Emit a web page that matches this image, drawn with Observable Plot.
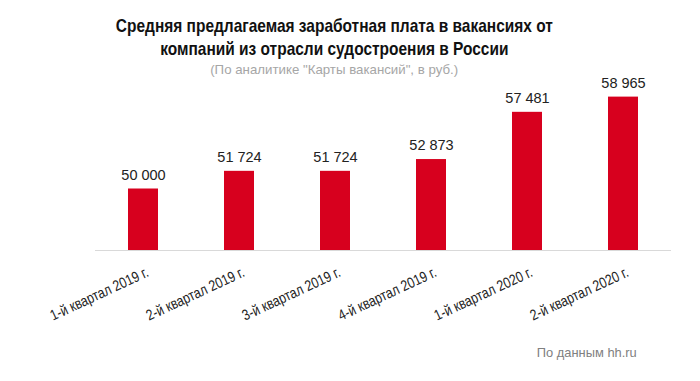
<!DOCTYPE html>
<html><head><meta charset="utf-8">
<script src="https://cdn.jsdelivr.net/npm/d3@7"></script>
<script src="https://cdn.jsdelivr.net/npm/@observablehq/plot@0.6"></script>
<style>
html,body{margin:0;padding:0;background:#fff;}
#wrap{position:relative;width:700px;height:381px;overflow:hidden;font-family:"Liberation Sans",Arial,sans-serif;}
#chart{position:absolute;left:0;top:56px;}
#title{position:absolute;left:0;top:14px;width:668px;text-align:center;font-weight:bold;font-size:19px;line-height:23px;color:#111;}
#subtitle{position:absolute;left:0;top:62px;width:668px;text-align:center;font-size:13.5px;line-height:16px;color:#a6a6a6;}
#caption{position:absolute;right:63px;top:345px;font-size:13.5px;line-height:16px;color:#808080;text-align:right;}
.fit{display:inline-block;white-space:nowrap;}
</style></head>
<body>
<div id="wrap">
  <div id="chart"></div>
  <div id="title"><span class="fit" id="t1" style="transform-origin:50% 50%">Средняя предлагаемая заработная плата в вакансиях от<br>компаний из отрасли судостроения в России</span></div>
  <div id="subtitle"><span class="fit" id="t2" style="transform-origin:50% 50%">(По аналитике "Карты вакансий", в руб.)</span></div>
  <div id="caption"><span class="fit" id="t3" style="transform-origin:100% 50%">По данным hh.ru</span></div>
</div>
<script>
const categories = ["1-й квартал 2019 г.", "2-й квартал 2019 г.", "3-й квартал 2019 г.", "4-й квартал 2019 г.", "1-й квартал 2020 г.", "2-й квартал 2020 г."];
const values = [50000, 51724, 51724, 52873, 57481, 58965];

const data = categories.map((c, i) => ({category: c, value: values[i]}));
const fmt = d3.formatLocale({decimal: ",", thousands: " ", grouping: [3], currency: ["", ""]}).format(",d");
const FONT = '"Liberation Sans",Arial,sans-serif';

const chart = Plot.plot({
  width: 700,
  height: 282,
  marginTop: 30,
  marginBottom: 88,
  marginLeft: 95,
  marginRight: 29,
  style: {fontFamily: FONT, background: "transparent", overflow: "visible"},
  x: {domain: categories, paddingInner: 0.686, paddingOuter: 0.343, label: null},
  y: {domain: [44000, 60000], axis: null},
  marks: [
    Plot.barY(data, {x: "category", y1: 44000, y2: "value", fill: "#d7001e"}),
    Plot.ruleY([44000], {stroke: "#d9d9d9", strokeWidth: 1}),
    Plot.text(data, {x: "category", y: "value", text: d => fmt(d.value), dy: -14, fontSize: 14.5, fill: "#222", letterSpacing: -0.8}),
    Plot.axisX({tickSize: 0, tickRotate: -25, tickPadding: 21, dx: 4, fontSize: 15, fill: "#222", label: null})
  ]
});
chart.querySelectorAll('g[aria-label="x-axis tick label"] text').forEach(t => {
  const tr = t.getAttribute("transform") || "";
  if (tr.includes("rotate")) t.setAttribute("transform", tr + " scale(0.82,1)");
  else t.style.letterSpacing = "-1px";
});
document.getElementById("chart").appendChild(chart);

function fit(id, target) {
  const el = document.getElementById(id);
  const w = el.getBoundingClientRect().width;
  el.style.transform = `scaleX(${target / w})`;
}
fit("t1", 437);
fit("t2", 248);
fit("t3", 100);
</script>
</body></html>
